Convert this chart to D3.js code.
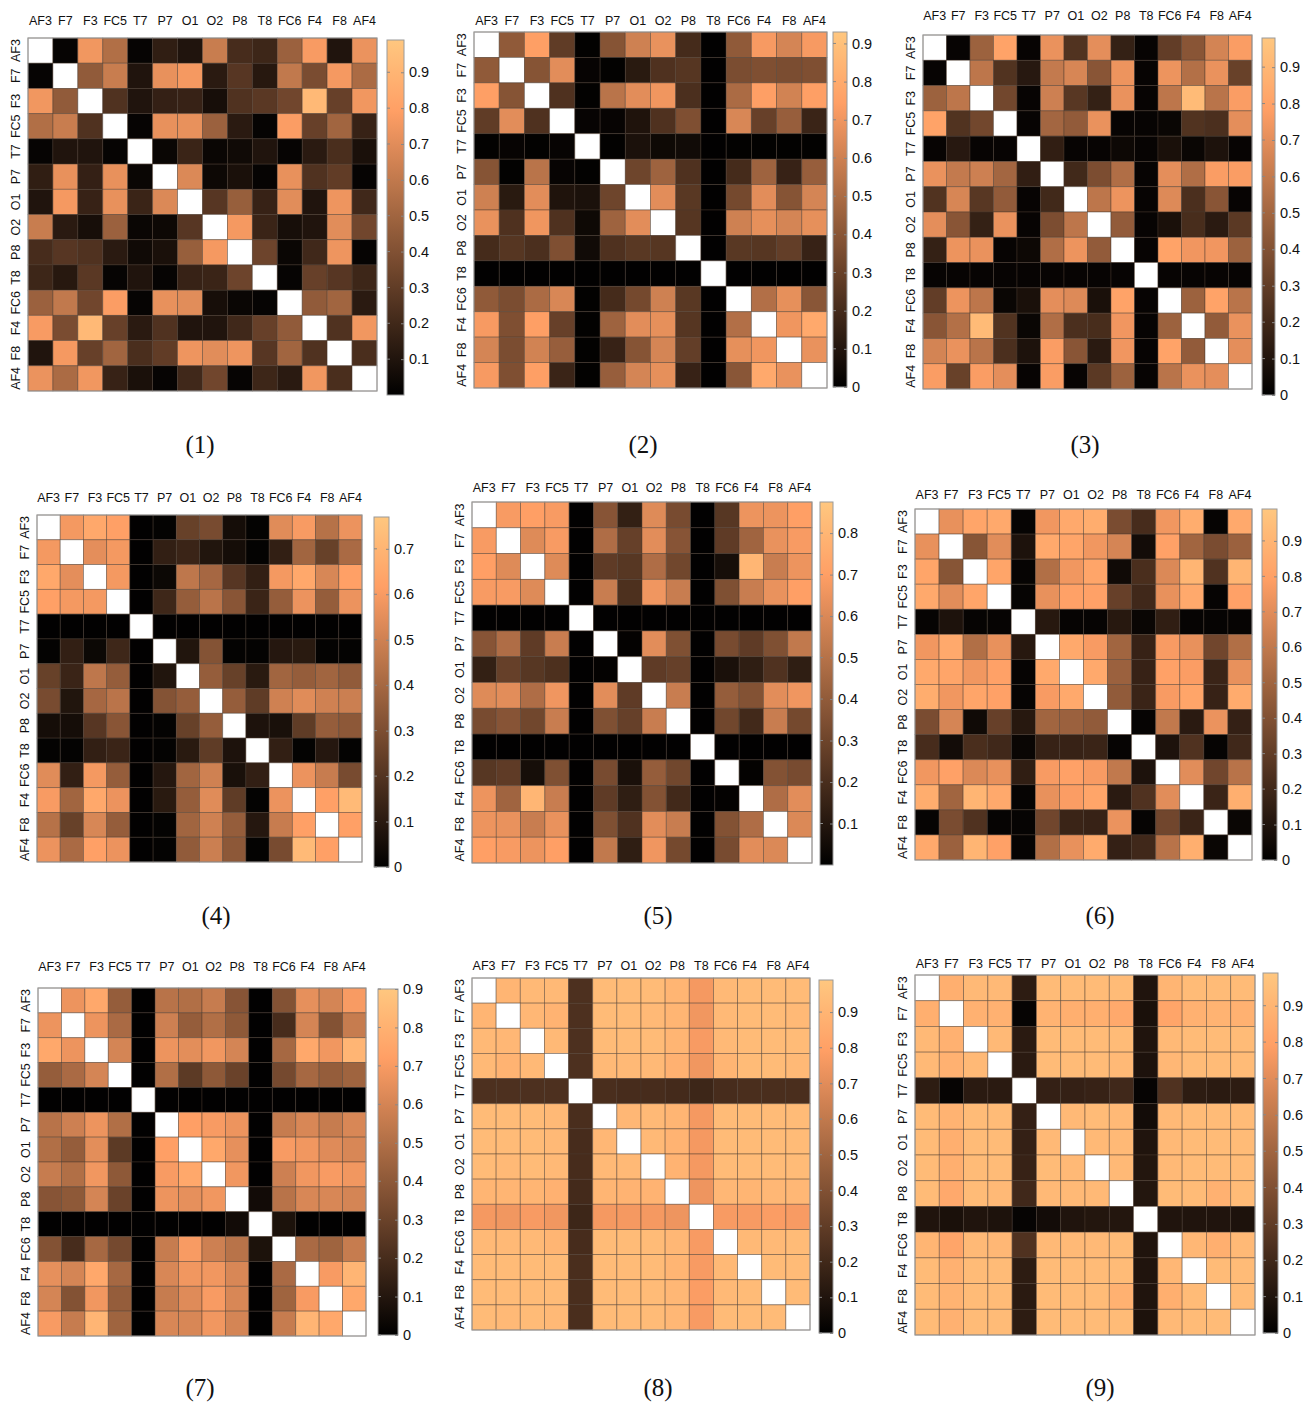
<!DOCTYPE html>
<html><head><meta charset="utf-8">
<script src="https://cdn.jsdelivr.net/npm/d3@7"></script>
<style>body{margin:0;background:#fff}svg{display:block}</style>
</head><body>
<svg id="c" width="1306" height="1404"></svg>
<script>
const channels = ["AF3","F7","F3","FC5","T7","P7","O1","O2","P8","T8","FC6","F4","F8","AF4"];
const panelTitles = ["(1)","(2)","(3)","(4)","(5)","(6)","(7)","(8)","(9)"];

const m1 = [
[null,.02,.75,.55,.02,.15,.10,.62,.22,.19,.48,.77,.10,.73],
[.02,null,.45,.62,.10,.72,.76,.13,.27,.12,.60,.38,.76,.53],
[.75,.45,null,.25,.10,.16,.17,.07,.25,.28,.35,.92,.32,.75],
[.55,.62,.25,null,.02,.72,.72,.48,.13,.02,.78,.32,.50,.17],
[.02,.10,.10,.02,null,.03,.18,.03,.05,.10,.02,.13,.23,.08],
[.15,.72,.16,.72,.03,null,.68,.04,.08,.02,.72,.25,.30,.02],
[.10,.76,.17,.72,.18,.68,null,.27,.47,.17,.70,.10,.74,.20],
[.62,.13,.07,.48,.03,.04,.27,null,.76,.18,.07,.10,.70,.35],
[.22,.27,.25,.13,.05,.08,.47,.76,null,.34,.03,.20,.74,.02],
[.19,.12,.28,.02,.10,.02,.17,.18,.34,null,.02,.32,.27,.19],
[.48,.60,.35,.78,.02,.72,.70,.07,.03,.02,null,.45,.50,.13],
[.77,.38,.92,.32,.13,.25,.10,.10,.20,.32,.45,null,.25,.75],
[.10,.76,.32,.50,.23,.30,.74,.70,.74,.27,.50,.25,null,.23],
[.73,.53,.75,.17,.08,.02,.20,.35,.02,.19,.13,.75,.23,null]
];
const m2 = [
[null,.42,.74,.28,.01,.39,.60,.68,.20,.005,.42,.72,.62,.72],
[.42,null,.39,.66,.02,.01,.12,.23,.25,.005,.36,.37,.36,.37],
[.74,.39,null,.23,.01,.54,.66,.70,.22,.005,.50,.74,.61,.74],
[.28,.66,.23,null,.02,.02,.09,.23,.37,.005,.63,.30,.44,.17],
[.01,.02,.01,.02,null,.01,.08,.04,.05,.005,.01,.01,.01,.01],
[.39,.01,.54,.02,.01,null,.32,.46,.23,.005,.20,.46,.16,.44],
[.60,.12,.66,.09,.08,.32,null,.66,.26,.005,.34,.66,.39,.62],
[.68,.23,.70,.23,.04,.46,.66,null,.25,.005,.60,.67,.62,.67],
[.20,.25,.22,.37,.05,.23,.26,.25,null,.005,.26,.25,.29,.16],
[.005,.005,.005,.005,.005,.005,.005,.005,.005,null,.005,.005,.005,.005],
[.42,.36,.50,.63,.01,.20,.34,.60,.26,.005,null,.52,.67,.40],
[.72,.37,.74,.30,.01,.46,.66,.67,.25,.005,.52,null,.70,.79],
[.62,.36,.61,.44,.01,.16,.39,.62,.29,.005,.67,.70,null,.68],
[.72,.37,.74,.17,.01,.44,.62,.67,.16,.005,.40,.79,.68,null]
];
const m3 = [
[null,.02,.48,.80,.02,.72,.25,.70,.16,.02,.30,.42,.65,.77],
[.02,null,.58,.25,.12,.60,.66,.42,.73,.02,.73,.55,.72,.32],
[.48,.58,null,.35,.02,.63,.27,.16,.72,.02,.58,.92,.57,.77],
[.80,.25,.35,null,.02,.50,.45,.72,.02,.02,.03,.25,.23,.70],
[.02,.12,.02,.02,null,.15,.02,.02,.04,.02,.08,.03,.09,.02],
[.72,.60,.63,.50,.15,null,.20,.38,.54,.02,.70,.54,.77,.77],
[.25,.66,.27,.45,.02,.20,null,.58,.73,.02,.68,.23,.42,.02],
[.70,.42,.16,.72,.02,.38,.58,null,.45,.02,.08,.22,.13,.28],
[.16,.73,.72,.02,.04,.54,.73,.45,null,.02,.80,.74,.74,.48],
[.02,.02,.02,.02,.02,.02,.02,.02,.02,null,.02,.02,.02,.02],
[.30,.73,.58,.03,.08,.70,.68,.08,.80,.02,null,.48,.80,.57],
[.42,.55,.92,.25,.03,.54,.23,.22,.74,.02,.48,null,.45,.72],
[.65,.72,.57,.23,.09,.77,.42,.13,.74,.02,.80,.45,null,.70],
[.77,.32,.77,.70,.02,.77,.02,.28,.48,.02,.57,.72,.70,null]
];
const m4 = [
[null,.59,.65,.62,.005,.01,.25,.29,.05,.01,.54,.60,.44,.57],
[.59,null,.55,.59,.005,.12,.14,.08,.05,.01,.12,.39,.25,.41],
[.65,.55,null,.59,.005,.03,.46,.40,.21,.12,.59,.65,.52,.62],
[.62,.59,.59,null,.005,.15,.36,.45,.33,.14,.36,.57,.36,.57],
[.005,.005,.005,.005,null,.005,.005,.005,.005,.005,.005,.005,.005,.005],
[.01,.12,.03,.15,.005,null,.08,.32,.01,.01,.09,.10,.01,.01],
[.25,.14,.46,.36,.005,.08,null,.36,.25,.10,.39,.36,.39,.35],
[.29,.08,.40,.45,.005,.32,.36,null,.36,.23,.50,.54,.50,.49],
[.05,.05,.21,.33,.005,.01,.25,.36,null,.07,.06,.23,.36,.34],
[.01,.01,.12,.14,.005,.01,.10,.23,.07,null,.12,.01,.09,.01],
[.54,.12,.59,.36,.005,.09,.39,.50,.06,.12,null,.57,.48,.29],
[.60,.39,.65,.57,.005,.10,.36,.54,.23,.01,.57,null,.62,.72],
[.44,.25,.52,.36,.005,.01,.39,.50,.36,.09,.48,.62,null,.62],
[.57,.41,.62,.57,.005,.01,.35,.49,.34,.01,.29,.72,.62,null]
];
const m5 = [
[null,.68,.70,.68,.005,.37,.14,.61,.33,.005,.24,.65,.65,.70],
[.68,null,.61,.68,.005,.48,.28,.62,.37,.005,.26,.44,.64,.68],
[.70,.61,null,.61,.005,.26,.24,.48,.31,.005,.06,.80,.55,.65],
[.68,.68,.61,null,.005,.55,.21,.66,.55,.005,.35,.55,.64,.70],
[.005,.005,.005,.005,null,.005,.005,.005,.005,.005,.005,.005,.005,.005],
[.37,.48,.26,.55,.005,null,.01,.62,.35,.005,.33,.26,.35,.53],
[.14,.28,.24,.21,.005,.01,null,.26,.28,.005,.07,.13,.22,.13],
[.61,.62,.48,.66,.005,.62,.26,null,.55,.005,.41,.36,.62,.66],
[.33,.37,.31,.55,.005,.35,.28,.55,null,.005,.31,.18,.55,.32],
[.005,.005,.005,.005,.005,.005,.005,.005,.005,null,.005,.005,.005,.005],
[.24,.26,.06,.35,.005,.33,.07,.41,.31,.005,null,.01,.36,.33],
[.65,.44,.80,.55,.005,.26,.13,.36,.18,.005,.01,null,.48,.62],
[.65,.64,.55,.64,.005,.35,.22,.62,.55,.005,.36,.48,null,.60],
[.70,.68,.65,.70,.005,.53,.13,.66,.32,.005,.33,.62,.60,null]
];
const m6 = [
[null,.72,.82,.84,.02,.75,.84,.86,.38,.22,.75,.86,.02,.84],
[.72,null,.42,.70,.09,.84,.82,.75,.66,.06,.80,.50,.38,.48],
[.82,.42,null,.82,.02,.55,.75,.82,.05,.23,.68,.90,.25,.90],
[.84,.70,.82,null,.02,.72,.80,.80,.32,.20,.72,.84,.02,.80],
[.02,.09,.02,.02,null,.12,.02,.02,.12,.03,.15,.02,.02,.02],
[.75,.84,.55,.72,.12,null,.84,.77,.50,.17,.77,.72,.35,.55],
[.84,.82,.75,.80,.02,.84,null,.84,.48,.17,.80,.78,.18,.72],
[.86,.75,.82,.80,.02,.77,.84,null,.45,.18,.77,.82,.17,.85],
[.38,.66,.05,.32,.12,.50,.48,.45,null,.02,.60,.13,.73,.16],
[.22,.06,.23,.20,.03,.17,.17,.18,.02,null,.09,.25,.02,.20],
[.75,.80,.68,.72,.15,.77,.80,.77,.60,.09,null,.70,.35,.57],
[.86,.50,.90,.84,.02,.72,.78,.82,.13,.25,.70,null,.18,.87],
[.02,.38,.25,.02,.02,.35,.18,.17,.73,.02,.35,.18,null,.03],
[.84,.48,.90,.80,.02,.55,.72,.85,.16,.20,.57,.87,.03,null]
];
const m7 = [
[null,.67,.76,.42,.005,.52,.50,.56,.38,.005,.37,.65,.60,.70],
[.67,null,.67,.48,.005,.58,.42,.50,.40,.005,.20,.60,.37,.56],
[.76,.67,null,.60,.005,.67,.64,.68,.60,.005,.47,.76,.68,.82],
[.42,.48,.60,null,.005,.50,.26,.40,.30,.005,.33,.47,.42,.45],
[.005,.005,.005,.005,null,.005,.005,.005,.005,.005,.005,.005,.005,.005],
[.52,.58,.67,.50,.005,null,.72,.70,.67,.005,.56,.61,.56,.61],
[.50,.42,.64,.26,.005,.72,null,.76,.65,.005,.70,.68,.63,.61],
[.56,.50,.68,.40,.005,.70,.76,null,.68,.005,.58,.68,.70,.68],
[.38,.40,.60,.30,.005,.67,.65,.68,null,.05,.52,.61,.61,.60],
[.005,.005,.005,.005,.005,.005,.005,.005,.05,null,.08,.005,.005,.005],
[.37,.20,.47,.33,.005,.56,.70,.58,.52,.08,null,.48,.45,.56],
[.65,.60,.76,.47,.005,.61,.68,.68,.61,.005,.48,null,.70,.82],
[.60,.37,.68,.42,.005,.56,.63,.70,.61,.005,.45,.70,null,.76],
[.70,.56,.82,.45,.005,.61,.61,.68,.60,.005,.56,.82,.76,null]
];
const m8 = [
[null,.90,.92,.92,.24,.93,.93,.93,.90,.76,.92,.93,.93,.93],
[.90,null,.91,.89,.24,.93,.93,.92,.90,.75,.92,.93,.93,.92],
[.92,.91,null,.92,.24,.93,.93,.93,.90,.77,.92,.93,.93,.93],
[.92,.89,.92,null,.24,.92,.92,.92,.88,.75,.90,.93,.93,.92],
[.24,.24,.24,.24,null,.23,.22,.22,.21,.19,.22,.23,.23,.23],
[.93,.93,.93,.92,.23,null,.91,.92,.90,.76,.93,.93,.93,.93],
[.93,.93,.93,.92,.22,.91,null,.92,.89,.76,.93,.93,.93,.93],
[.93,.92,.93,.92,.22,.92,.92,null,.89,.76,.93,.93,.93,.93],
[.90,.90,.90,.88,.21,.90,.89,.89,null,.74,.91,.90,.91,.91],
[.76,.75,.77,.75,.19,.76,.76,.76,.74,null,.77,.77,.78,.77],
[.92,.92,.92,.90,.22,.93,.93,.93,.91,.77,null,.92,.92,.93],
[.93,.93,.93,.93,.23,.93,.93,.93,.90,.77,.92,null,.93,.93],
[.93,.93,.93,.93,.23,.93,.93,.93,.91,.78,.92,.93,null,.93],
[.93,.92,.93,.92,.23,.93,.93,.93,.91,.77,.93,.93,.93,null]
];
const m9 = [
[null,.87,.92,.92,.14,.93,.93,.93,.93,.10,.90,.93,.93,.93],
[.87,null,.88,.88,.02,.89,.87,.87,.84,.08,.82,.88,.89,.88],
[.92,.88,null,.92,.13,.93,.93,.93,.93,.10,.92,.93,.93,.93],
[.92,.88,.92,null,.13,.93,.93,.93,.92,.09,.91,.93,.93,.93],
[.14,.02,.13,.13,null,.16,.16,.17,.20,.02,.25,.14,.13,.14],
[.93,.89,.93,.93,.16,null,.92,.93,.92,.06,.92,.93,.93,.93],
[.93,.87,.93,.93,.16,.92,null,.92,.92,.10,.92,.93,.93,.93],
[.93,.87,.93,.93,.17,.93,.92,null,.92,.11,.92,.93,.93,.93],
[.93,.84,.93,.92,.20,.92,.92,.92,null,.11,.93,.93,.88,.93],
[.10,.08,.10,.09,.02,.06,.10,.11,.11,null,.10,.10,.10,.09],
[.90,.82,.92,.91,.25,.92,.92,.92,.93,.10,null,.91,.87,.92],
[.93,.88,.93,.93,.14,.93,.93,.93,.93,.10,.91,null,.93,.93],
[.93,.89,.93,.93,.13,.93,.93,.93,.88,.10,.87,.93,null,.93],
[.93,.88,.93,.93,.14,.93,.93,.93,.93,.09,.92,.93,.93,null]
];

const colorMax = [0.99, 0.93, 0.98, 0.77, 0.875, 0.99, 0.9, 0.99, 0.99];
const ticks1 = [0.1,0.2,0.3,0.4,0.5,0.6,0.7,0.8,0.9];
const ticks2 = [0,0.1,0.2,0.3,0.4,0.5,0.6,0.7,0.8,0.9];
const ticks3 = [0,0.1,0.2,0.3,0.4,0.5,0.6,0.7,0.8,0.9];
const ticks4 = [0,0.1,0.2,0.3,0.4,0.5,0.6,0.7];
const ticks5 = [0.1,0.2,0.3,0.4,0.5,0.6,0.7,0.8];
const ticks6 = [0,0.1,0.2,0.3,0.4,0.5,0.6,0.7,0.8,0.9];
const ticks7 = [0,0.1,0.2,0.3,0.4,0.5,0.6,0.7,0.8,0.9];
const ticks8 = [0,0.1,0.2,0.3,0.4,0.5,0.6,0.7,0.8,0.9];
const ticks9 = [0,0.1,0.2,0.3,0.4,0.5,0.6,0.7,0.8,0.9];

const matrices = [m1,m2,m3,m4,m5,m6,m7,m8,m9];
const tickSets = [ticks1,ticks2,ticks3,ticks4,ticks5,ticks6,ticks7,ticks8,ticks9];

// layout: heatmap [x0,x1,y0,y1], colorbar [x0,x1,y0,y1], column-label baseline, title position
const layout = [
  {hm:[28,377,38,391],   cb:[387,404,40,395],    lab:25,  title:[200,453]},
  {hm:[474,827,32,388],  cb:[833,847,32,387],    lab:25,  title:[643,453]},
  {hm:[923,1252,35,389], cb:[1262,1275,38,395],  lab:20,  title:[1085,453]},
  {hm:[37,362,515,862],  cb:[374,389,517,867],   lab:502, title:[216,924]},
  {hm:[472,812,502,863], cb:[820,833,502,865],   lab:492, title:[658,924]},
  {hm:[915,1252,509,860],cb:[1262,1277,509,860], lab:499, title:[1100,924]},
  {hm:[38,366,988,1336], cb:[378,398,989,1335],  lab:971, title:[200,1396]},
  {hm:[472,810,978,1330],cb:[819,833,980,1333],  lab:970, title:[658,1396]},
  {hm:[915,1255,975,1335],cb:[1263,1278,973,1333],lab:968, title:[1100,1396]}
];

function copper(t) {
  t = Math.max(0, Math.min(1, t));
  const r = Math.min(1, 1.25 * t), g = 0.7812 * t, b = 0.4975 * t;
  return d3.rgb(Math.round(r*255), Math.round(g*255), Math.round(b*255)).toString();
}

const svg = d3.select("#c");
const defs = svg.append("defs");
const FONT = "'Liberation Sans', Arial, sans-serif";

matrices.forEach((mat, p) => {
  const L = layout[p];
  const g = svg.append("g");
  const x = d3.scaleBand().domain(channels).range([L.hm[0], L.hm[1]]);
  const y = d3.scaleBand().domain(channels).range([L.hm[2], L.hm[3]]);
  const col = d3.scaleLinear().domain([0, colorMax[p]]).range([0, 1]);

  const cells = [];
  mat.forEach((row, i) => row.forEach((v, j) => cells.push({r: channels[i], c: channels[j], v})));

  g.selectAll("rect.cell").data(cells).join("rect")
    .attr("class", "cell")
    .attr("x", d => x(d.c)).attr("y", d => y(d.r))
    .attr("width", x.bandwidth()).attr("height", y.bandwidth())
    .attr("fill", d => d.v === null ? "#ffffff" : copper(col(d.v)))
    .attr("stroke", "#4a3a30").attr("stroke-opacity", 0.55).attr("stroke-width", 0.8);

  g.append("rect")
    .attr("x", L.hm[0]).attr("y", L.hm[2])
    .attr("width", L.hm[1]-L.hm[0]).attr("height", L.hm[3]-L.hm[2])
    .attr("fill", "none").attr("stroke", "#9a9a9a").attr("stroke-width", 1);

  // column labels
  g.selectAll("text.col").data(channels).join("text")
    .attr("class", "col")
    .attr("x", d => x(d) + x.bandwidth()/2).attr("y", L.lab)
    .attr("text-anchor", "middle")
    .attr("font-family", FONT).attr("font-size", 12.5).attr("fill", "#111")
    .text(d => d);

  // row labels (rotated)
  g.selectAll("text.row").data(channels).join("text")
    .attr("class", "row")
    .attr("transform", d => `translate(${L.hm[0]-8},${y(d) + y.bandwidth()/2}) rotate(-90)`)
    .attr("text-anchor", "middle")
    .attr("font-family", FONT).attr("font-size", 12.5).attr("fill", "#111")
    .text(d => d);

  // colorbar
  const gid = "grad" + p;
  const grad = defs.append("linearGradient").attr("id", gid)
    .attr("x1", 0).attr("y1", 1).attr("x2", 0).attr("y2", 0);
  d3.range(0, 1.0001, 0.05).forEach(t => grad.append("stop").attr("offset", t).attr("stop-color", copper(t)));
  const cb = L.cb;
  g.append("rect").attr("x", cb[0]).attr("y", cb[2]).attr("width", cb[1]-cb[0]).attr("height", cb[3]-cb[2])
    .attr("fill", `url(#${gid})`).attr("stroke", "#9a9a9a").attr("stroke-width", 1);

  const cbScale = d3.scaleLinear().domain([0, colorMax[p]]).range([cb[3], cb[2]]);
  const ax = g.append("g").attr("transform", `translate(${cb[1]},0)`)
    .call(d3.axisRight(cbScale).tickValues(tickSets[p]).tickSize(-3).tickPadding(5).tickFormat(d3.format("~g")));
  ax.select(".domain").remove();
  ax.selectAll("line").attr("stroke", "#888");
  ax.selectAll("text").attr("font-family", FONT).attr("font-size", 14.5).attr("fill", "#111");
  g.selectAll("line.lt").data(tickSets[p]).join("line").attr("class", "lt")
    .attr("x1", cb[0]).attr("x2", cb[0] + 3)
    .attr("y1", d => cbScale(d)).attr("y2", d => cbScale(d))
    .attr("stroke", "#888");

  // panel title
  svg.append("text").attr("x", L.title[0]).attr("y", L.title[1])
    .attr("text-anchor", "middle")
    .attr("font-family", "'Liberation Serif', 'Times New Roman', serif").attr("font-size", 25).attr("fill", "#111")
    .text(panelTitles[p]);
});
</script>
</body></html>
